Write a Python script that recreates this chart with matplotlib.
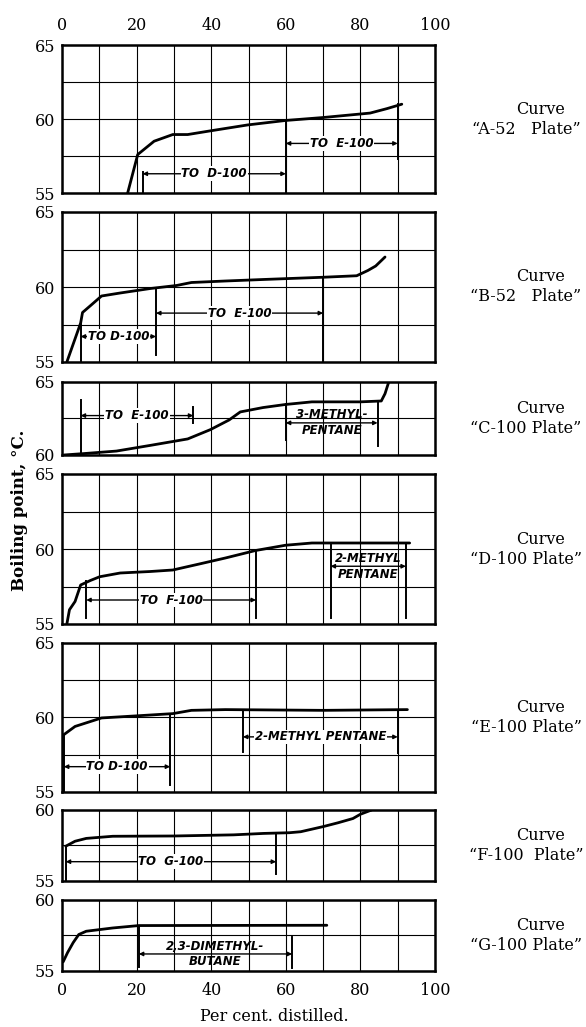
import matplotlib.pyplot as plt
from matplotlib.ticker import MultipleLocator

plt.rcParams['font.family'] = ['DejaVu Serif']

# distillation curves: per cent distilled vs boiling point (deg C)
a_x = [17.6, 20.3, 24.7, 29.7, 33.7, 39.8, 49.8, 59.9, 70.0, 82.6, 87.1, 91.1]
a_y = [55.0, 57.6, 58.5, 58.95, 58.95, 59.2, 59.6, 59.9, 60.1, 60.4, 60.7, 61.0]

b_x = [1.3, 5.0, 5.5, 7.6, 10.6, 15.6, 23.7, 30.7, 34.7, 43.8, 53.9, 70.0, 79.0, 82.0, 84.1, 86.6]
b_y = [55.0, 57.6, 58.3, 58.75, 59.4, 59.6, 59.9, 60.1, 60.3, 60.4, 60.5, 60.65, 60.75, 61.1, 61.4, 62.0]

c_x = [0.5, 6.0, 14.6, 23.7, 33.7, 39.8, 44.8, 47.8, 53.9, 59.9, 67.0, 80.0, 85.6, 86.6, 87.6]
c_y = [60.0, 60.1, 60.27, 60.66, 61.1, 61.74, 62.4, 62.95, 63.25, 63.46, 63.64, 63.64, 63.7, 64.2, 65.0]

d_x = [1.3, 2.0, 3.5, 5.0, 7.6, 10.1, 15.6, 23.7, 29.7, 36.8, 43.8, 51.9, 59.9, 67.0, 93.2]
d_y = [55.0, 55.95, 56.5, 57.6, 57.9, 58.15, 58.4, 58.5, 58.6, 59.0, 59.4, 59.9, 60.25, 60.4, 60.4]

e_x = [0.5, 3.5, 10.6, 20.6, 29.7, 34.7, 43.8, 70.0, 92.6]
e_y = [58.85, 59.4, 59.97, 60.12, 60.26, 60.48, 60.53, 60.48, 60.53]

f_x = [1.0, 3.5, 6.5, 13.6, 30.0, 46.0, 54.0, 61.0, 64.0, 70.0, 74.0, 78.0, 80.0, 83.0]
f_y = [57.45, 57.8, 58.0, 58.15, 58.17, 58.25, 58.35, 58.4, 58.47, 58.83, 59.1, 59.4, 59.7, 60.0]

g_x = [0.3, 1.5, 3.0, 4.5, 6.5, 13.6, 20.6, 71.0]
g_y = [55.64, 56.3, 57.0, 57.57, 57.8, 58.03, 58.2, 58.22]

curve_names = ['A-52   Plate', 'B-52   Plate', 'C-100 Plate', 'D-100 Plate',
               'E-100 Plate', 'F-100  Plate', 'G-100 Plate']
y_ranges = [(55, 65), (55, 65), (60, 65), (55, 65), (55, 65), (55, 60), (55, 60)]

# cut markers: vertical bars (x, y from, y to) and labelled spans (x from, x to, y, text)
a_bars = [(21.6, 55.0, 56.4), (60.0, 55.0, 59.9), (90.0, 57.3, 61.0)]
a_spans = [(21.6, 60.0, 56.3, 'TO  D-100'), (60.0, 90.0, 58.35, 'TO  E-100')]
b_bars = [(5.0, 55.0, 57.6), (25.2, 55.5, 59.9), (70.0, 55.0, 60.65)]
b_spans = [(5.0, 25.2, 56.7, 'TO D-100'), (25.2, 70.0, 58.26, 'TO  E-100')]
c_bars = [(5.0, 60.0, 63.75), (35.2, 62.2, 63.3), (60.0, 61.0, 63.5), (84.6, 60.6, 63.7)]
c_spans = [(5.0, 35.2, 62.7, 'TO  E-100'), (60.0, 84.6, 62.2, '3-METHYL-\nPENTANE')]
d_bars = [(6.5, 55.4, 57.9), (52.0, 55.4, 59.9), (72.0, 55.4, 60.4), (92.2, 55.4, 60.4)]
d_spans = [(6.5, 52.0, 56.6, 'TO  F-100'), (72.0, 92.2, 58.85, '2-METHYL\nPENTANE')]
e_bars = [(0.5, 55.0, 58.85), (29.0, 55.5, 60.25), (48.5, 57.7, 60.5), (90.0, 57.6, 60.5)]
e_spans = [(0.5, 29.0, 56.7, 'TO D-100'), (48.5, 90.0, 58.7, '2-METHYL PENTANE')]
f_bars = [(1.0, 55.0, 57.45), (57.4, 55.5, 58.3)]
f_spans = [(1.0, 57.4, 56.36, 'TO  G-100')]
g_bars = [(20.6, 55.3, 58.2), (61.7, 55.2, 57.4)]
g_spans = [(20.6, 61.7, 56.2, '2,3-DIMETHYL-\nBUTANE')]

curves = [(a_x, a_y), (b_x, b_y), (c_x, c_y), (d_x, d_y), (e_x, e_y), (f_x, f_y), (g_x, g_y)]
bars = [a_bars, b_bars, c_bars, d_bars, e_bars, f_bars, g_bars]
spans = [a_spans, b_spans, c_spans, d_spans, e_spans, f_spans, g_spans]

# panel boxes in pixels of the 586x1027 page (top, bottom)
W, H = 586, 1027
left, right = 62, 435
boxes = [(45, 193), (212, 362), (382, 455), (474, 624), (643, 792), (810, 881), (900, 971)]


def draw_span(ax, x0, x1, y, text):
    ax.annotate('', xy=(x0, y), xytext=(x1, y),
                arrowprops=dict(arrowstyle='<|-|>', color='black', lw=1.0,
                                mutation_scale=6, shrinkA=0, shrinkB=0))
    style = dict(ha='center', fontsize=8.5, style='italic', family='DejaVu Sans',
                 fontweight='bold')
    xm = (x0 + x1) / 2
    if '\n' in text:
        top, bottom = text.split('\n')
        ax.annotate(top, (xm, y), xytext=(0, 1), textcoords='offset points',
                    va='bottom', **style)
        ax.annotate(bottom, (xm, y), xytext=(0, -1), textcoords='offset points',
                    va='top', **style)
    else:
        ax.text(xm, y, text, va='center',
                bbox=dict(fc='white', ec='none', pad=0.6), **style)


fig = plt.figure(figsize=(W / 100, H / 100), dpi=100)

for i, (top, bottom) in enumerate(boxes):
    ax = fig.add_axes([left / W, 1 - bottom / H, (right - left) / W, (bottom - top) / H])
    lo, hi = y_ranges[i]
    ax.set_xlim(0, 100)
    ax.set_ylim(lo, hi)
    ax.xaxis.set_major_locator(MultipleLocator(20))
    ax.xaxis.set_minor_locator(MultipleLocator(10))
    ax.yaxis.set_major_locator(MultipleLocator(5))
    ax.yaxis.set_minor_locator(MultipleLocator(2.5))
    ax.grid(which='both', color='black', lw=0.8)
    ax.set_axisbelow(True)
    for s in ax.spines.values():
        s.set_linewidth(1.8)
    ax.tick_params(which='both', length=0, labelsize=11.5)
    ax.tick_params(axis='y', pad=5)
    ax.tick_params(axis='x', pad=8)
    if i == 0:
        ax.tick_params(axis='x', labeltop=True, labelbottom=False)
    elif i < len(boxes) - 1:
        ax.tick_params(axis='x', labelbottom=False)

    x, y = curves[i]
    ax.plot(x, y, color='black', lw=2.0, solid_capstyle='round')
    for bx, y0, y1 in bars[i]:
        ax.plot([bx, bx], [y0, y1], color='black', lw=1.4)
    for x0, x1, ys, txt in spans[i]:
        draw_span(ax, x0, x1, ys, txt)

    yc = 1 - (top + bottom) / 2 / H
    fig.text(541 / W, yc + 10 / H, 'Curve', ha='center', va='center', fontsize=11.5)
    fig.text(526 / W, yc - 10 / H, '\u201c' + curve_names[i] + '\u201d',
             ha='center', va='center', fontsize=11.5)

    if i == len(boxes) - 1:
        ax.set_xlabel('Per cent. distilled.', fontsize=11.5)
        ax.xaxis.set_label_coords(0.57, -0.52)

fig.text(20 / W, 1 - 510 / H, 'Boiling point, \u00b0C.', rotation=90,
         ha='center', va='center', fontsize=12, fontweight='bold')

fig.savefig('out.png', dpi=100)
